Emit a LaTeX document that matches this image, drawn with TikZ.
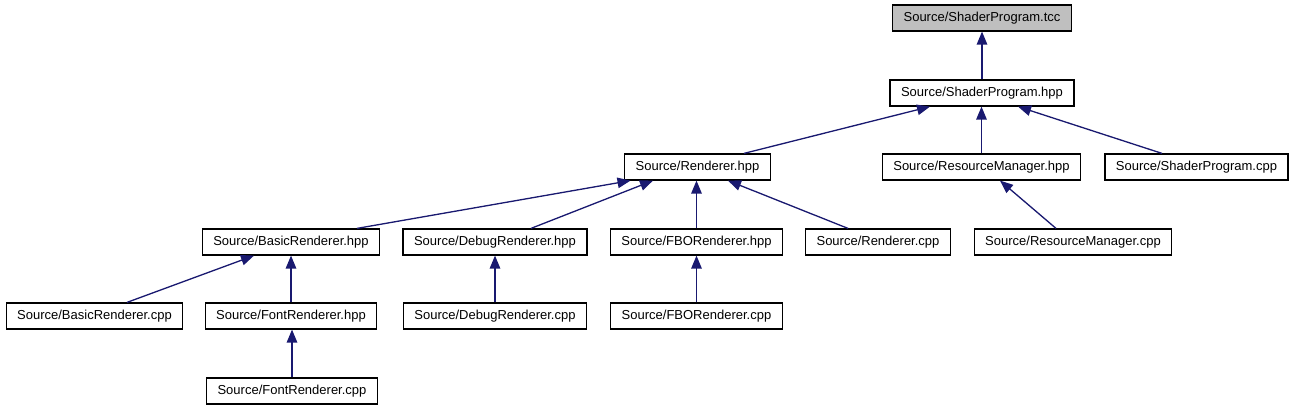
\documentclass[tikz,border=0pt]{standalone}
\usepackage{fontspec}
\setmainfont{Liberation Sans}
\usepackage{xcolor}
\usetikzlibrary{arrows.meta}
\definecolor{edgeblue}{HTML}{191970}
\definecolor{rootgray}{HTML}{BFBFBF}
\tikzset{
  filebox/.style={rectangle,draw=black,line width=1.2pt,fill=white,minimum height=26pt,inner xsep=11pt,inner ysep=0pt,font=\fontsize{13pt}{15pt}\selectfont},
  rootbox/.style={filebox,fill=rootgray},
  arrow/.style={{Triangle[length=13pt,width=10.5pt]}-,line width=1.3pt,draw=edgeblue,fill=edgeblue}
}

\begin{document}
\begin{tikzpicture}[x=1pt,y=-1pt]
  \useasboundingbox (0,0) rectangle (1293,411);
  \fill[white] (0,0) rectangle (1293,411);

  \node[rootbox] (tcc) at (982,18) {Source/ShaderProgram.tcc};
  \node[filebox] (sphpp) at (982,93) {Source/ShaderProgram.hpp};
  \node[filebox] (rhpp) at (697.5,167) {Source/Renderer.hpp};
  \node[filebox] (rmhpp) at (981.5,167) {Source/ResourceManager.hpp};
  \node[filebox] (spcpp) at (1196.5,167) {Source/ShaderProgram.cpp};
  \node[filebox] (brhpp) at (291,242) {Source/BasicRenderer.hpp};
  \node[filebox] (drhpp) at (495,242) {Source/DebugRenderer.hpp};
  \node[filebox] (fbohpp) at (696.5,242) {Source/FBORenderer.hpp};
  \node[filebox] (rcpp) at (878,242) {Source/Renderer.cpp};
  \node[filebox] (rmcpp) at (1073,242) {Source/ResourceManager.cpp};
  \node[filebox] (brcpp) at (94.5,316) {Source/BasicRenderer.cpp};
  \node[filebox] (frhpp) at (291,316) {Source/FontRenderer.hpp};
  \node[filebox] (drcpp) at (495,316) {Source/DebugRenderer.cpp};
  \node[filebox] (fbocpp) at (696.5,316) {Source/FBORenderer.cpp};
  \node[filebox] (frcpp) at (292,391) {Source/FontRenderer.cpp};

  \draw[arrow] (tcc.south) -- (sphpp.north);
  \draw[arrow] ([xshift=-52pt]sphpp.south) -- ([xshift=46.5pt]rhpp.north);
  \draw[arrow] (sphpp.south -| rmhpp.north) -- (rmhpp.north);
  \draw[arrow] ([xshift=36pt]sphpp.south) -- ([xshift=-34.5pt]spcpp.north);
  \draw[arrow] ([xshift=-67pt]rhpp.south) -- ([xshift=66pt]brhpp.north);
  \draw[arrow] ([xshift=-44.5pt]rhpp.south) -- ([xshift=36pt]drhpp.north);
  \draw[arrow] (rhpp.south -| fbohpp.north) -- (fbohpp.north);
  \draw[arrow] ([xshift=30.5pt]rhpp.south) -- ([xshift=-30pt]rcpp.north);
  \draw[arrow] ([xshift=18.5pt]rmhpp.south) -- ([xshift=-17pt]rmcpp.north);
  \draw[arrow] ([xshift=-37pt]brhpp.south) -- ([xshift=32.5pt]brcpp.north);
  \draw[arrow] (brhpp.south) -- (frhpp.north);
  \draw[arrow] (drhpp.south) -- (drcpp.north);
  \draw[arrow] (fbohpp.south -| fbocpp.north) -- (fbocpp.north);
  \draw[arrow] (frhpp.south -| frcpp.north) -- (frcpp.north);
\end{tikzpicture}
\end{document}
